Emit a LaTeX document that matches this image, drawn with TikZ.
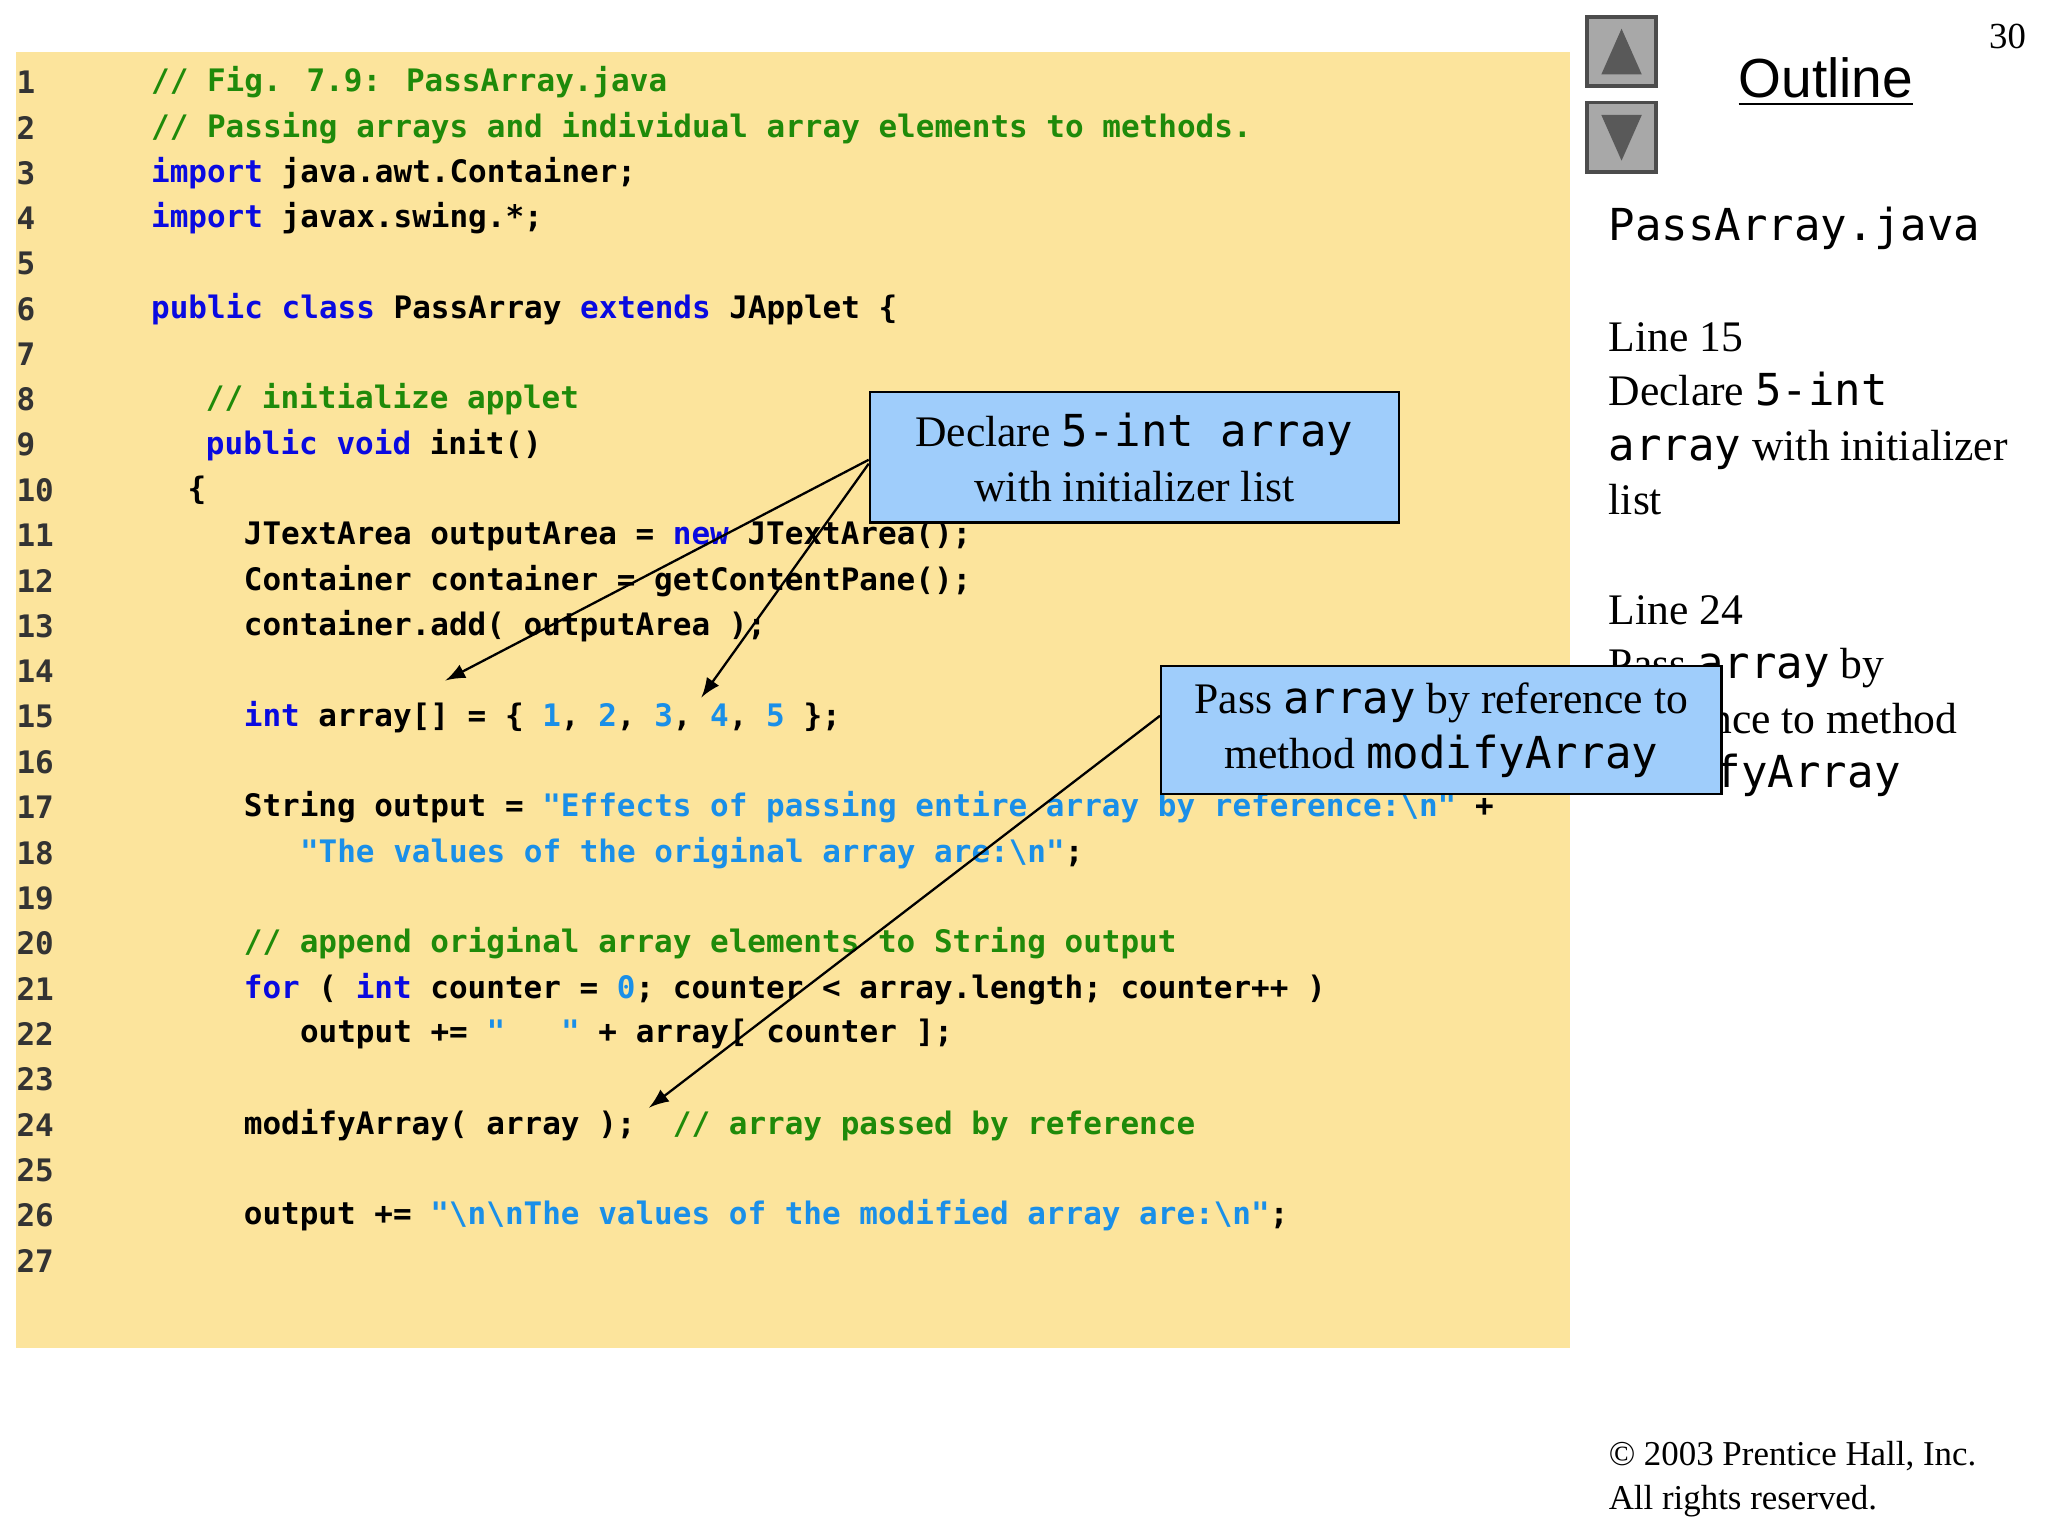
\documentclass[tikz,border=0pt]{standalone}
\usepackage{fontspec}
\setmainfont{Liberation Serif}
\newfontfamily\codefont{DejaVu Sans Mono}
\newfontfamily\outfont{Liberation Sans}
\definecolor{codebg}{HTML}{FCE49C}
\definecolor{kwc}{HTML}{0A0AE0}
\definecolor{cmc}{HTML}{1F8A0A}
\definecolor{stc}{HTML}{1A8FE8}
\definecolor{callbg}{HTML}{9FCDFB}
\definecolor{btn}{HTML}{A8A8A8}
\newcommand{\kwd}[1]{\textcolor{kwc}{#1}}
\newcommand{\cmt}[1]{\textcolor{cmc}{#1}}
\newcommand{\str}[1]{\textcolor{stc}{#1}}
\newcommand{\bs}{\textbackslash}
\newcommand{\mon}[1]{{\codefont\fontsize{9.6pt}{11pt}\selectfont #1}}
\tikzset{
 code/.style={anchor=west,inner sep=0,font=\codefont\bfseries\fontsize{6.75pt}{8pt}\selectfont},
 lnum/.style={anchor=west,inner sep=0,text=black!80,font=\codefont\bfseries\fontsize{6.75pt}{8pt}\selectfont},
 callout/.style={draw=black,fill=callbg,line width=0.5pt,align=center,inner sep=0,font=\fontsize{9.5pt}{12pt}\selectfont},
 side/.style={anchor=north west,align=left,inner sep=0,font=\fontsize{9.5pt}{11.9pt}\selectfont},
 arr/.style={-latex,line width=0.5pt},
 button/.style={draw=black!70,fill=btn,line width=0.8pt,minimum width=5.3mm,minimum height=5.3mm,inner sep=0}
}
\begin{document}
\begin{tikzpicture}[x=0.1mm,y=-0.1mm]
\useasboundingbox (0,0) rectangle (1568,1176);
\fill[codebg] (12,40) rectangle (1202,1032);
\foreach \n in {1,...,27}{\node[lnum] (n\n) at (12,{63+(\n-1)*34.7}) {\n};}
\def\Y#1{{63+(#1-1)*34.7}}
\node[code] (c1) at (115,\Y{1}) {\cmt{// Fig. 7.9: PassArray.java}};
\node[code] (c2) at (115,\Y{2}) {\cmt{// Passing arrays and individual array elements to methods.}};
\node[code] (c3) at (115,\Y{3}) {\kwd{import} java.awt.Container;};
\node[code] (c4) at (115,\Y{4}) {\kwd{import} javax.swing.*;};
\node[code] (c6) at (115,\Y{6}) {\kwd{public} \kwd{class} PassArray \kwd{extends} JApplet \{};
\node[code] (c8) at (157,\Y{8}) {\cmt{// initialize applet}};
\node[code] (c9) at (157,\Y{9}) {\kwd{public} \kwd{void} init()};
\node[code] (c10) at (143,\Y{10}) {\{};
\node[code] (c11) at (186,\Y{11}) {JTextArea outputArea = \kwd{new} JTextArea();};
\node[code] (c12) at (186,\Y{12}) {Container container = getContentPane();};
\node[code] (c13) at (186,\Y{13}) {container.add( outputArea );};
\node[code] (c15) at (186,\Y{15}) {\kwd{int} array[] = \{ \str{1}, \str{2}, \str{3}, \str{4}, \str{5} \};};
\node[code] (c17) at (186,\Y{17}) {String output = \str{"Effects of passing entire array by reference:\bs n"} +};
\node[code] (c18) at (229,\Y{18}) {\str{"The values of the original array are:\bs n"};};
\node[code] (c20) at (186,\Y{20}) {\cmt{// append original array elements to String output}};
\node[code] (c21) at (186,\Y{21}) {\kwd{for} ( \kwd{int} counter = \str{0}; counter < array.length; counter++ )};
\node[code] (c22) at (229,\Y{22}) {output += \str{"\ \ \ "} + array[ counter ];};
\node[code] (c24) at (186,\Y{24}) {modifyArray( array );\ \ \cmt{// array passed by reference}};
\node[code] (c26) at (186,\Y{26}) {output += \str{"\bs n\bs nThe values of the modified array are:\bs n"};};
% sidebar
\node[button] (up) at (1241.5,39.5) {};
\fill[black!65] (1226,57) -- (1241.5,22) -- (1257,57) -- cycle;
\node[button] (dn) at (1241.5,105) {};
\fill[black!65] (1226,88) -- (1241.5,123) -- (1257,88) -- cycle;
\node[inner sep=0,font=\outfont\fontsize{12pt}{14pt}\selectfont] (outl) at (1398,63) {\underline{Outline}};
\node[inner sep=0,font=\fontsize{8pt}{9pt}\selectfont] (pg) at (1537,28) {30};
\node[anchor=west,inner sep=0] (pa) at (1231,175) {\mon{PassArray.java}};
\node[side] (s15) at (1231,246) {Line 15\\Declare \mon{5-int}\\\mon{array} with initializer\\list};
\node[side] (s24) at (1231,455) {Line 24\\Pass \mon{array} by\\reference to method\\\mon{modifyArray}};
\node[side,font=\fontsize{7.6pt}{9.6pt}\selectfont] (copy) at (1231,1103) {\textcopyright{} 2003 Prentice Hall, Inc.\\All rights reserved.};
% callouts
\node[callout,minimum width=40.5mm,minimum height=10mm] (co1) at (868.5,350) {Declare \mon{5-int array}\\with initializer list};
\node[callout,minimum width=42.9mm,minimum height=9.8mm] (co2) at (1103.5,559) {Pass \mon{array} by reference to\\method \mon{modifyArray}};
\coordinate (t1) at (341,521);
\coordinate (t2) at (537,534);
\coordinate (t3) at (497,848);
\draw[arr] (co1.west) ++(0,2) -- (t1);
\draw[arr] (co1.west) ++(0,5) -- (t2);
\draw[arr] (co2.west) ++(0,-11) -- (t3);
\end{tikzpicture}
\end{document}
